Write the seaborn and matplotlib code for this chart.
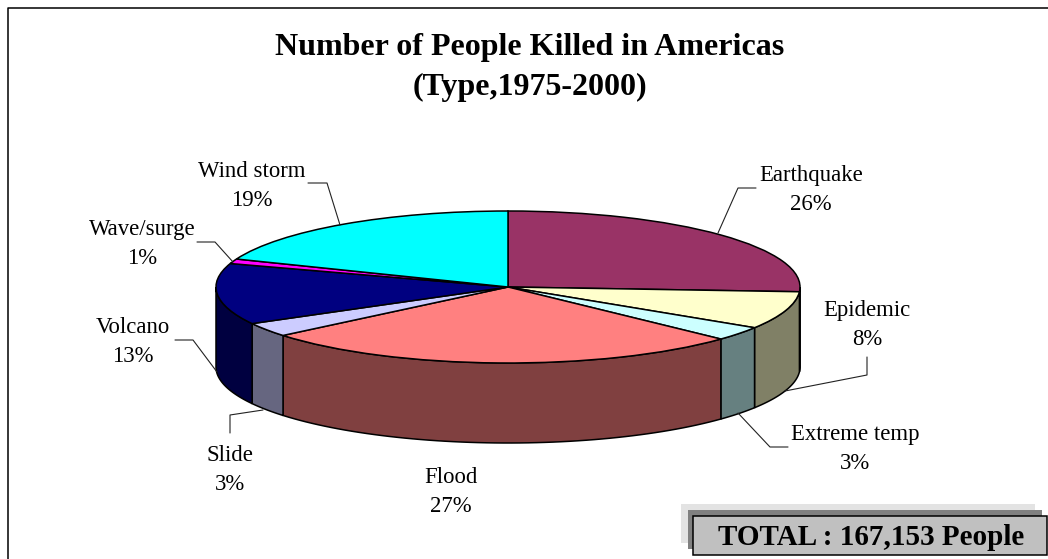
import numpy as np
import matplotlib
matplotlib.use('Agg')
import matplotlib.pyplot as plt
from matplotlib.patches import Polygon, Rectangle
import seaborn as sns

categories = ['Earthquake', 'Epidemic', 'Extreme temp', 'Flood', 'Slide', 'Volcano', 'Wave/surge', 'Wind storm']
percents = [26, 8, 3, 27, 3, 13, 1, 19]
top_colors = ['#993366', '#FFFFCC', '#CCFFFF', '#FF8080', '#CCCCFF', '#000080', '#FF00FF', '#00FFFF']
title_lines = ['Number of People Killed in Americas', '(Type,1975-2000)']
total_text = 'TOTAL : 167,153 People'

sns.set_theme(style='white')
plt.rcParams['font.family'] = ['Liberation Serif', 'DejaVu Serif']

W, H = 1048, 559
CX, CY, RX, RY, DEPTH = 508, 287, 292, 76, 80

fig = plt.figure(figsize=(W / 100, H / 100), dpi=100, facecolor='white')
ax = fig.add_axes([0, 0, 1, 1])

palette = sns.color_palette(top_colors)
wedges, _ = ax.pie(percents, colors=palette, startangle=90, counterclock=False, radius=1,
                   wedgeprops={'edgecolor': 'black', 'linewidth': 1.1, 'zorder': 3})
ax.set_aspect('auto')
ax.set_xlim(-CX / RX, (W - CX) / RX)
ax.set_ylim((CY - H) / RY, CY / RY)
ax.axis('off')

# side wall of the pie, front half only
drop = DEPTH / RY
for w, col in zip(wedges, palette):
    t1, t2 = sorted([w.theta1, w.theta2])
    a = max(t1, 180)
    b = min(t2, 360)
    if b <= a:
        a = max(t1 + 360, 180)
        b = min(t2 + 360, 360)
    if b <= a:
        continue
    th = np.radians(np.linspace(a, b, 60))
    xs = np.cos(th)
    ys = np.sin(th)
    pts = np.r_[np.c_[xs, ys], np.c_[xs[::-1], ys[::-1] - drop]]
    dark = tuple(c * 0.5 for c in col)
    ax.add_patch(Polygon(pts, closed=True, facecolor=dark, edgecolor='black', linewidth=1.1, zorder=2))

# everything below is placed in image pixels
def P(x, y):
    return x / W, 1 - y / H

for s, y in zip(title_lines, [55, 95]):
    fig.text(*P(530, y), s, ha='center', va='baseline', fontsize=23, fontweight='bold', color='black')

label_pos = [(811, 181), (867, 316), (855, 440), (451, 483), (230, 461), (133, 333), (142, 235), (252, 177)]
leaders = [
    [(756, 188), (738, 188), (718, 233)],
    [(867, 357), (867, 375), (785, 391)],
    [(738, 413), (770, 447), (788, 447)],
    [(230, 433), (230, 415), (263, 410)],
    [(175, 340), (193, 340), (217, 372)],
    [(197, 242), (215, 242), (233, 262)],
    [(308, 183), (327, 183), (340, 225)],
]
for name, pct, (x, y) in zip(categories, percents, label_pos):
    fig.text(*P(x, y), name, ha='center', va='baseline', fontsize=16.4, color='black')
    fig.text(*P(x, y + 29), f'{pct}%', ha='center', va='baseline', fontsize=16.4, color='black')
for pts in leaders:
    xs, ys = zip(*[P(*p) for p in pts])
    fig.add_artist(plt.Line2D(xs, ys, color='#222222', lw=0.8))

# frame around the chart
xs, ys = zip(*[P(*p) for p in [(8, H), (8, 8), (W, 8)]])
fig.add_artist(plt.Line2D(xs, ys, color='black', lw=1.1))

def box(x0, y0, x1, y1, fc, ec='none', lw=0):
    fig.add_artist(Rectangle(P(x0, y1), (x1 - x0) / W, (y1 - y0) / H, transform=fig.transFigure,
                             facecolor=fc, edgecolor=ec, linewidth=lw))

box(681, 504, 1035, 543, '#E3E3E3')
box(688, 510, 1042, 549, '#808080')
box(693, 516, 1047, 555, '#C0C0C0', 'black', 1.1)
fig.text(*P(871, 545), total_text, ha='center', va='baseline', fontsize=21, fontweight='bold', color='black')

fig.savefig('out.png', dpi=100)
